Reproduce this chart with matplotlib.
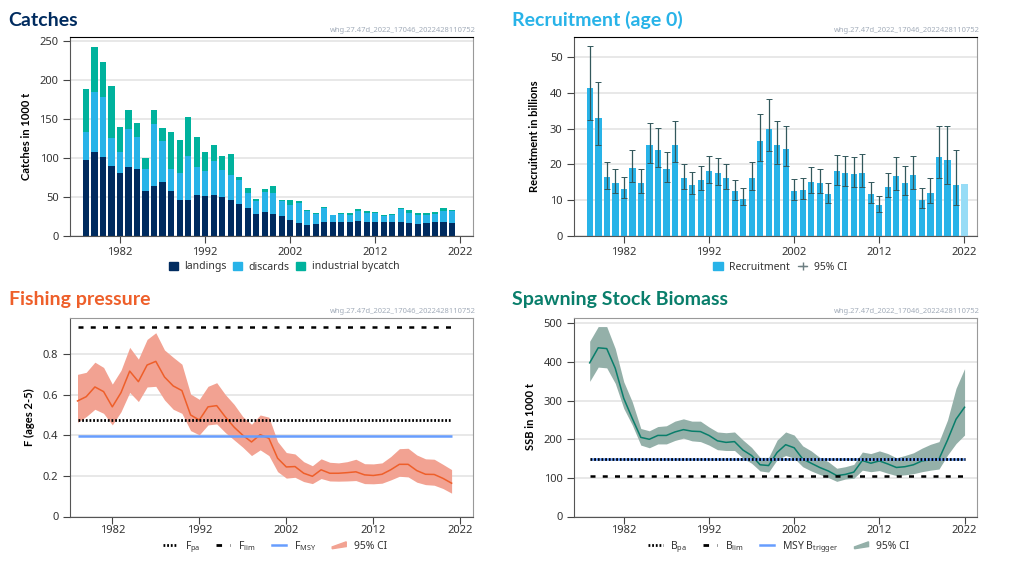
import numpy as np
import matplotlib
matplotlib.use('Agg')
import matplotlib.pyplot as plt
from matplotlib.lines import Line2D
from matplotlib.patches import Patch, Polygon
from matplotlib.legend_handler import HandlerPatch

plt.rcParams['font.family'] = ['Noto Sans', 'DejaVu Sans']
plt.rcParams['mathtext.default'] = 'regular'

W, H = 1009, 565

# Catches, 1000 t
catch_years = list(range(1978, 2022))
landings = [97, 107, 101, 90, 81, 88, 86, 57, 64, 69, 57, 46, 46, 52, 51, 52, 49, 46, 40, 35, 28, 30,
            28, 25, 20, 16, 13, 15, 18, 18, 17, 18, 19, 18, 17, 18, 17, 17, 16, 15, 16, 18, 17, 16]
discards = [36, 77, 77, 36, 26, 49, 41, 28, 80, 53, 28, 35, 56, 36, 32, 44, 35, 32, 31, 20, 17, 26,
            27, 20, 19, 26, 19, 13, 17, 8, 11, 9, 13, 11, 12, 7, 10, 17, 13, 12, 11, 10, 15, 16]
bycatch = [55, 59, 45, 66, 33, 24, 18, 15, 17, 16, 48, 42, 51, 39, 25, 21, 18, 27, 4, 6, 2, 4,
           9, 1, 7, 3, 1, 1, 2, 1, 1, 2, 2, 2, 1, 2, 1, 2, 4, 2, 2, 2, 3, 1]

# Recruitment, billions (last year has no CI)
rec_years = list(range(1978, 2023))
recruitment = [41.5, 33, 16.3, 14.8, 13, 19, 14.8, 25.3, 24, 18.7, 25.5, 16.2, 14.3, 15.6, 18,
               17.5, 16.1, 12.5, 10.3, 16.2, 26.6, 30, 25.3, 24.3, 12.4, 12.8, 15, 14.8, 11.6, 18,
               17.6, 17.2, 17.5, 11.7, 8.6, 13.7, 16.7, 14.8, 16.9, 10, 11.9, 22, 21.1, 14.3, 14.5]
rec_high = [53.2, 43.2, 20.7, 18.6, 16.3, 24, 18.8, 31.7, 30.3, 23.3, 32.2, 20.2, 17.8, 19.4, 22.2,
            21.7, 20, 15.5, 13.2, 20.5, 34, 38.2, 32.2, 30.8, 15.8, 16.1, 19.2, 18.8, 14.7, 22.6,
            22.4, 21.9, 22.8, 15, 11, 17.5, 21.9, 19.5, 22.2, 13.3, 16.1, 30.8, 30.8, 23.9]
rec_low = [32.3, 25.3, 13, 11.8, 10.5, 15, 11.8, 20.3, 19.2, 15, 20.5, 13, 11.6, 12.7, 14.7,
           14.2, 13, 10, 8.5, 12.7, 21, 23.6, 20, 19.4, 10, 10.2, 11.8, 11.8, 9.1, 14.3,
           13.9, 13.6, 13.6, 9.2, 6.7, 10.9, 12.9, 11.4, 13, 7.7, 9, 16, 14.4, 8.6]

# Fishing pressure
f_years = list(range(1978, 2022))
f_bar = [.569, .59, .638, .615, .54, .61, .716, .664, .746, .764, .687, .643, .62, .5, .475,
         .54, .546, .49, .44, .40, .367, .403, .385, .287, .244, .246, .213, .198, .23, .213,
         .213, .216, .22, .205, .202, .208, .23, .257, .257, .226, .208, .207, .188, .164]
f_high = [.70, .71, .76, .734, .652, .72, .833, .775, .872, .905, .82, .784, .75, .603, .577,
          .641, .659, .60, .552, .492, .454, .50, .489, .369, .315, .308, .27, .25, .284, .267,
          .264, .27, .282, .26, .259, .264, .295, .334, .336, .303, .284, .282, .257, .231]
f_low = [.464, .492, .528, .508, .451, .516, .611, .566, .638, .641, .574, .528, .508, .423, .402,
         .451, .456, .413, .377, .341, .30, .328, .30, .221, .189, .193, .172, .162, .187, .175,
         .174, .175, .177, .162, .161, .164, .18, .198, .195, .169, .157, .154, .138, .115]
f_lim, f_pa, f_msy = 0.934, 0.473, 0.395

# SSB, 1000 t
ssb_years = list(range(1978, 2023))
ssb = [398, 437, 435, 384, 306, 254, 205, 200, 210, 210, 219, 225, 221, 220, 210,
       196, 192, 194, 172, 158, 134, 132, 166, 186, 178, 149, 138, 127, 118, 106,
       109, 115, 145, 138, 144, 136, 127, 129, 134, 144, 147, 149, 198, 252, 283]
ssb_high = [454, 492, 492, 435, 349, 297, 228, 222, 233, 235, 247, 253, 247, 247, 232,
            219, 217, 219, 198, 179, 153, 153, 198, 219, 211, 183, 170, 153, 142, 125,
            129, 135, 167, 163, 170, 163, 152, 158, 165, 177, 187, 194, 250, 332, 383]
ssb_low = [350, 387, 385, 345, 280, 237, 185, 178, 188, 188, 197, 203, 196, 194, 185,
           173, 171, 171, 151, 138, 118, 115, 147, 158, 151, 129, 118, 109, 101, 91,
           97, 99, 120, 116, 119, 112, 106, 108, 111, 116, 120, 123, 159, 189, 211]
b_lim, b_pa, b_trigger = 106, 149, 150

year_ticks = [1982, 1992, 2002, 2012, 2022]
stamp = 'whg.27.47d_2022_17046_2022428110752'

NAVY = '#002b5f'
BLUE = '#28b3e8'
TEAL = '#00b29d'
ORANGE = '#ee5f2a'
GREEN = '#097e6b'
MSY = '#679dfe'
DASHED = (0, (2, 2.9))
DOTTED = (0, (0.65, 0.67))


def wedge(legend, orig_handle, xdescent, ydescent, width, height, fontsize):
    return Polygon([(0, 0.05 * height), (width, 0.35 * height), (width, height), (0, 0.3 * height)])


def make_axes(left, top, right, bottom, xlim, ylim, yticks, ylabel, label_x, title, title_color, title_x, title_y):
    ax = fig.add_axes([left / W, 1 - bottom / H, (right - left) / W, (bottom - top) / H])
    ax.set_xlim(*xlim)
    ax.set_ylim(*ylim)
    ax.set_xticks(year_ticks)
    ax.set_yticks(yticks)
    ax.tick_params(axis='both', length=5, width=0.8, color='#444444', labelcolor='#333333', labelsize=8, pad=3)
    ax.grid(axis='y', color='#e4e4e4', lw=1.2)
    ax.set_axisbelow(True)
    for side in ['left', 'bottom']:
        ax.spines[side].set_color('#555555')
    ax.spines['right'].set_color('#999999')
    ax.spines['top'].set_color('#999999')
    ax.set_ylabel(ylabel, fontsize=8, fontweight='bold', color='black', family='Lato')
    ax.yaxis.set_label_coords(label_x, 0.5)
    fig.text(title_x / W, 1 - title_y / H, title, fontsize=14, fontweight='bold', color=title_color,
             va='center', family='Lato')
    fig.text((right + 3) / W, 1 - (top - 6) / H, stamp, fontsize=5.45, color='#a3adba', ha='right', va='center')
    return ax


def add_legend(ax, handles, cx, cy, **kw):
    leg = ax.legend(handles=handles, loc='center', bbox_to_anchor=(cx / W, 1 - cy / H),
                    bbox_transform=fig.transFigure, ncol=len(handles), frameon=False, fontsize=7.5,
                    labelcolor='#333333', **kw)
    return leg


fig = plt.figure(figsize=(W / 100, H / 100), dpi=100)

# Catches
ax1 = make_axes(69.5, 36.5, 473, 235.5, (1976.07, 2023.47), (0, 256), [0, 50, 100, 150, 200, 250],
                'Catches in 1000 t', -0.093, 'Catches', NAVY, 8, 20)
bottom2 = np.array(landings) + np.array(discards)
ax1.bar(catch_years, landings, width=0.72, color=NAVY, label='landings')
ax1.bar(catch_years, discards, width=0.72, bottom=landings, color=BLUE, label='discards')
ax1.bar(catch_years, bycatch, width=0.72, bottom=bottom2, color=TEAL, label='industrial bycatch')
ax1.spines['top'].set_color('black')
add_legend(ax1, [Patch(color=NAVY, label='landings'), Patch(color=BLUE, label='discards'),
                 Patch(color=TEAL, label='industrial bycatch')], 284, 267,
           handlelength=0.9, handleheight=0.9, handletextpad=0.6, columnspacing=0.6)

# Recruitment
ax2 = make_axes(573.5, 36.5, 977, 235.5, (1976.07, 2023.47), (0, 55.85), [0, 10, 20, 30, 40, 50],
                'Recruitment in billions', -0.082, 'Recruitment (age 0)', BLUE, 512, 20)
ax2.bar(rec_years[:-1], recruitment[:-1], width=0.72, color=BLUE, label='Recruitment')
ax2.bar(rec_years[-1:], recruitment[-1:], width=0.72, color='#97dcf6')
rec_mid = np.array(recruitment[:-1])
err = ax2.errorbar(rec_years[:-1], rec_mid, yerr=[rec_mid - np.array(rec_low), np.array(rec_high) - rec_mid],
                   fmt='none', ecolor='#33585c', elinewidth=0.9, capsize=2.2, capthick=0.7)
ax2.spines['top'].set_color('black')
add_legend(ax2, [Patch(color=BLUE, label='Recruitment'),
                 Line2D([], [], color='#6d7f82', lw=0.9, marker='+', ms=6, label='95% CI')], 780, 267,
           handlelength=0.9, handleheight=0.9, handletextpad=0.6, columnspacing=0.8)

# Fishing pressure
ax3 = make_axes(69.5, 317.5, 473, 516.5, (1977.08, 2023.46), (0, 0.98), [0, 0.2, 0.4, 0.6, 0.8],
                'F (ages 2-5)', -0.085, 'Fishing pressure', ORANGE, 9, 300)
ax3.set_yticklabels(['0', '0.2', '0.4', '0.6', '0.8'])
ax3.tick_params(axis='x', pad=1)
ax3.fill_between(f_years, f_low, f_high, color='#f2a292', lw=0, zorder=2)
ax3.plot(f_years, f_bar, color=ORANGE, lw=1.1, zorder=3)
ax3.hlines(f_lim, 1978, 2021, color='black', lw=1.8, linestyles=DASHED, zorder=4)
ax3.hlines(f_pa, 1978, 2021, color='black', lw=2, linestyles=DOTTED, zorder=4)
ax3.hlines(f_msy, 1978, 2021, color=MSY, lw=1.8, zorder=4)
add_legend(ax3, [Line2D([], [], color='black', lw=2, ls=DOTTED, label='$F_{pa}$'),
                 Line2D([], [], color='black', lw=2, ls=DASHED, label='$F_{lim}$'),
                 Line2D([], [], color=MSY, lw=1.8, label='$F_{MSY}$'),
                 Patch(color='#f2a292', label='95% CI')], 275, 547,
           handlelength=1.35, handletextpad=0.75, columnspacing=1.55,
           handler_map={Patch: HandlerPatch(patch_func=wedge)})

# SSB
ax4 = make_axes(573.5, 317.5, 977, 516.5, (1976.1, 2023.46), (0, 515.5), [0, 100, 200, 300, 400, 500],
                'SSB in 1000 t', -0.093, 'Spawning Stock Biomass', GREEN, 512, 300)
ax4.tick_params(axis='x', pad=1)
ax4.fill_between(ssb_years, ssb_low, ssb_high, color='#94b0a9', lw=0, zorder=2)
ax4.plot(ssb_years, ssb, color=GREEN, lw=1.1, zorder=3)
ax4.hlines(b_lim, 1978, 2022, color='black', lw=1.8, linestyles=DASHED, zorder=4)
ax4.hlines(b_trigger, 1978, 2022, color=MSY, lw=1.8, zorder=4)
ax4.hlines(b_pa, 1978, 2022, color='black', lw=2, linestyles=DOTTED, zorder=4)
add_legend(ax4, [Line2D([], [], color='black', lw=2, ls=DOTTED, label='$B_{pa}$'),
                 Line2D([], [], color='black', lw=2, ls=DASHED, label='$B_{lim}$'),
                 Line2D([], [], color=MSY, lw=1.8, label='MSY $B_{trigger}$'),
                 Patch(color='#94b0a9', label='95% CI')], 779, 547,
           handlelength=1.35, handletextpad=0.75, columnspacing=1.55,
           handler_map={Patch: HandlerPatch(patch_func=wedge)})

fig.savefig('out.png', dpi=100)
